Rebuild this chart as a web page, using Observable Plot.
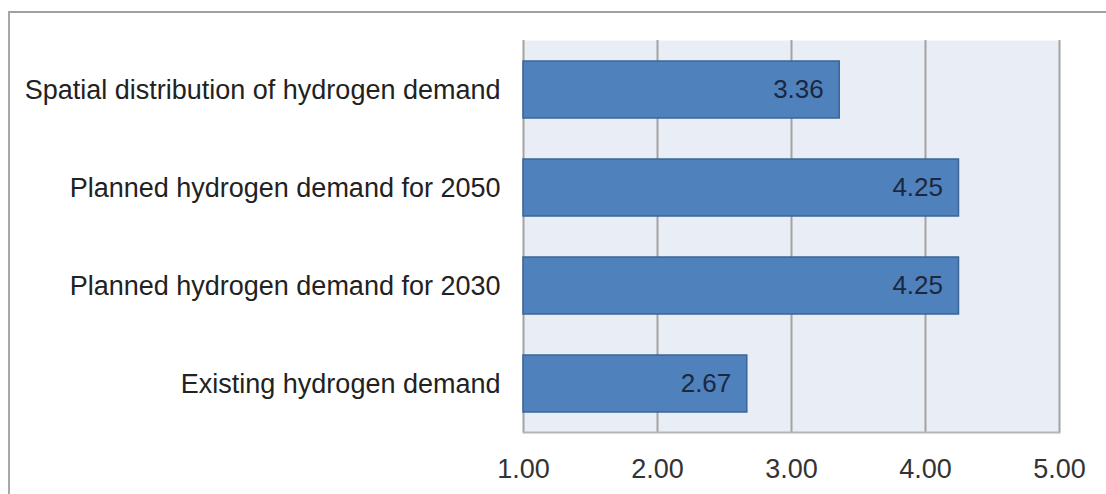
<!DOCTYPE html>
<html><head><meta charset="utf-8">
<script src="https://cdn.jsdelivr.net/npm/d3@7"></script>
<script src="https://cdn.jsdelivr.net/npm/@observablehq/plot@0.6"></script>
<style>
html,body{margin:0;padding:0;background:#fff;}
#wrap{position:relative;width:1106px;height:494px;overflow:hidden;}
#border{position:absolute;left:8px;top:11px;right:-10px;bottom:-10px;border-left:2px solid #a8a8a8;border-top:2px solid #a0a0a0;pointer-events:none;}
</style></head>
<body><div id="wrap"><div id="border"></div></div>
<script>
const categories = ["Spatial distribution of hydrogen demand","Planned hydrogen demand for 2050","Planned hydrogen demand for 2030","Existing hydrogen demand"];
const values = [3.36, 4.25, 4.25, 2.67];
const xTicks = [1, 2, 3, 4, 5];
const data = categories.map((c, i) => ({category: c, value: values[i]}));

const chart = Plot.plot({
  width: 1106, height: 494,
  marginLeft: 523, marginRight: 47, marginTop: 40, marginBottom: 62,
  style: {fontFamily: "Liberation Sans, Arial, sans-serif", fontSize: "27px", background: "transparent"},
  x: {domain: [1, 5], ticks: xTicks, tickFormat: d3.format(".2f"), label: null},
  y: {domain: categories, paddingInner: 0.42, paddingOuter: 0.21, label: null},
  marks: [
    Plot.frame({fill: "#e9edf5", stroke: null}),
    Plot.ruleX(xTicks, {stroke: "#a3a3a3", strokeWidth: 2}),
    Plot.frame({anchor: "bottom", stroke: "#b5b5b5", strokeWidth: 2}),
    Plot.barX(data, {x1: 1, x2: "value", y: "category", fill: "#4f81bd", stroke: "#3b6596", strokeWidth: 1.5}),
    Plot.text(data, {x: "value", y: "category", text: d => d3.format(".2f")(d.value), textAnchor: "end", dx: -16, fill: "#1c2740", fontSize: 26}),
    Plot.axisX({ticks: xTicks, tickFormat: d3.format(".2f"), tickSize: 0, tickPadding: 26, fontSize: 27, color: "#333", label: null}),
    Plot.axisY({tickSize: 0, tickPadding: 23, fontSize: 27, color: "#222", label: null})
  ]
});
document.getElementById("wrap").appendChild(chart);
chart.style.position = "absolute"; chart.style.left = "0"; chart.style.top = "0";
</script></body></html>
